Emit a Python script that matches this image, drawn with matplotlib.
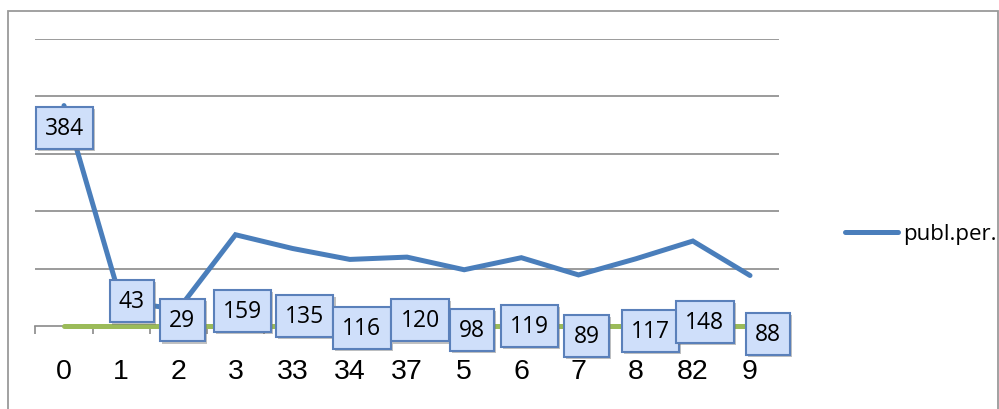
import matplotlib
matplotlib.use("Agg")
import matplotlib.pyplot as plt
import matplotlib.patheffects as pe
from matplotlib.patches import Rectangle

categories = ["0", "1", "2", "3", "33", "34", "37", "5", "6", "7", "8", "82", "9"]
publ_per = [384, 43, 29, 159, 135, 116, 120, 98, 119, 89, 117, 148, 88]
second_series = [0, 0, 0, 0, 0, 0, 0, 0, 0, 0, 0, 0, 0]
series_name = "publ.per."

# label placement (layout only, in data units)
label_dx = [0.01, 0.19, 0.07, 0.12, 0.21, 0.21, 0.23, 0.14, 0.14, 0.14, 0.26, 0.21, 0.31]
label_y = [345, 43, 10, 26, 17, -3, 10, -7, 0, -17, -9, 7, -14]

W, H = 999, 410
fig = plt.figure(figsize=(W / 100, H / 100), dpi=100)
ax = fig.add_axes([35.4 / W, 1 - 327 / H, 743.2 / W, 287 / H])

x = list(range(len(categories)))
ax.plot(x, second_series, color="#9bbb59", lw=3.6, solid_capstyle="round", zorder=3, clip_on=False)
ax.plot(x, publ_per, color="#4a7ebb", lw=3.6, solid_capstyle="round", solid_joinstyle="miter",
        zorder=4, clip_on=False, label=series_name)

ax.set_xlim(-0.5, len(categories) - 0.5)
ax.set_ylim(0, 500)
for yv in [100, 200, 300, 400, 500]:
    ax.axhline(yv, color="#8a8a8a", lw=1.2, zorder=1)

for s in ["top", "right", "left"]:
    ax.spines[s].set_visible(False)
ax.spines["bottom"].set_color("#8a8a8a")
ax.spines["bottom"].set_linewidth(1.2)
ax.set_yticks([])
ax.set_xticks(x)
ax.set_xticklabels(categories, fontfamily="Liberation Sans", fontsize=20.5)
ax.tick_params(axis="x", which="major", length=0, pad=23)
ax.set_xticks([i - 0.5 for i in range(len(categories) + 1)], minor=True)
ax.tick_params(axis="x", which="minor", length=6, width=1.2, color="#8a8a8a", direction="out")

for i, v in enumerate(publ_per):
    t = ax.text(i + label_dx[i], label_y[i], str(v), ha="center", va="center",
                fontfamily="Open Sans", fontsize=16.5, color="black", zorder=6, clip_on=False,
                bbox=dict(boxstyle="square,pad=0.4", facecolor="#cfdffa", edgecolor="#5a80ba", linewidth=1.5))
    t.get_bbox_patch().set_path_effects([pe.withSimplePatchShadow(offset=(1.5, -1.5), shadow_rgbFace="#777777", alpha=0.45)])

fs_leg = 16
fs_px = fs_leg * 100 / 72
ax.legend(loc="center left", bbox_to_anchor=(845 / W, 1 - 235 / H), bbox_transform=fig.transFigure,
          frameon=False, borderpad=0, borderaxespad=0, handlelength=53 / fs_px, handletextpad=5 / fs_px,
          prop={"family": "Open Sans", "size": fs_leg})

fig.add_artist(Rectangle((8 / W, -0.1), (998 - 8) / W, 1.1 - 12 / H, transform=fig.transFigure,
                         fill=False, edgecolor="#9a9a9a", linewidth=1.3))

fig.savefig("out.png", dpi=100)
